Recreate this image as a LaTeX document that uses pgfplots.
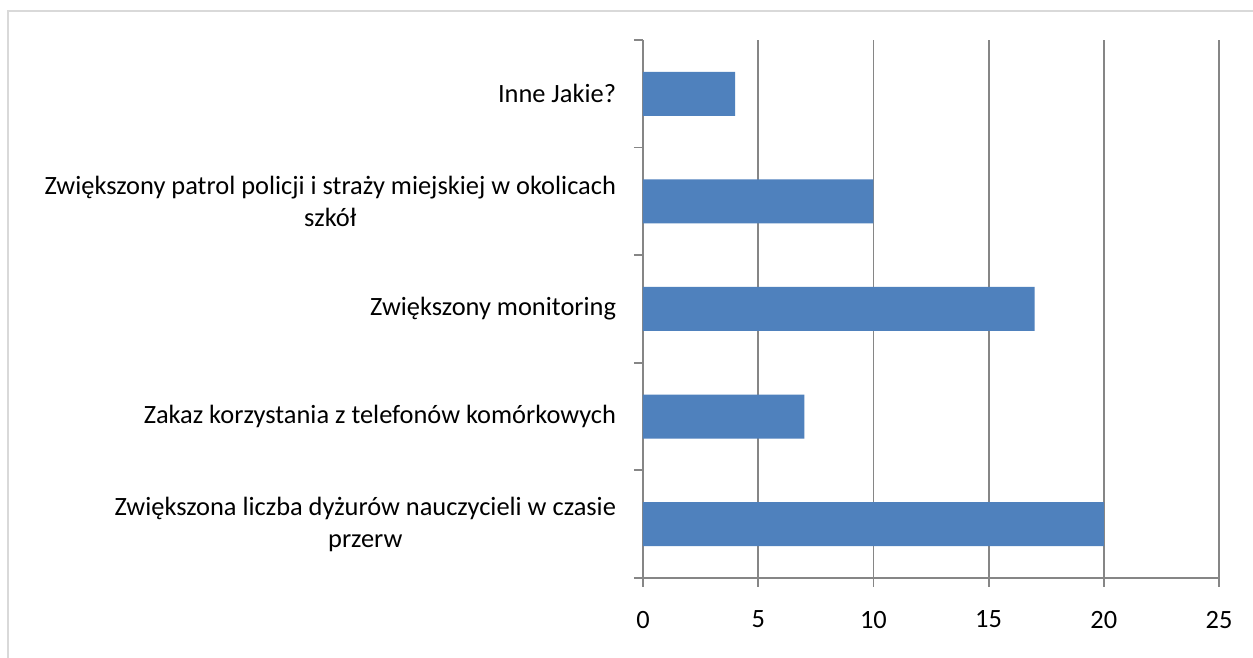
\documentclass[border=0pt]{standalone}
\usepackage{pgfplots}
\pgfplotsset{compat=1.18}
\usepackage{fontspec}
\setmainfont{Carlito}
\definecolor{barblue}{HTML}{4F81BD}
\definecolor{gridc}{HTML}{868686}
\begin{document}
\fontsize{26.5}{32}\selectfont
\begin{tikzpicture}[x=1bp,y=1bp]
\useasboundingbox[fill=white] (0,0) rectangle (1253,658);
\draw[color=black!15, line width=2bp] (8,0) -- (8,647) -- (1253,647);
\coordinate (O) at (643,80);
\begin{axis}[
  at={(O)}, anchor=south west,
  scale only axis, width=576bp, height=538bp,
  xmin=0, xmax=25, ymin=-0.5, ymax=4.5,
  axis x line=bottom, axis y line=left,
  axis line style={draw=gridc, line width=1.8bp, -},
  xtick={0,5,...,25}, xmajorgrids,
  grid style={draw=gridc, line width=1.8bp},
  ytick={-0.5,0.5,...,4.5}, yticklabels={},
  extra y ticks={0,1,2,3,4},
  extra y tick labels={{Zwiększona liczba dyżurów nauczycieli w czasie\\przerw},{Zakaz korzystania z telefonów komórkowych},{Zwiększony monitoring},{Zwiększony patrol policji i straży miejskiej w okolicach\\szkół},{Inne Jakie?}},
  extra y tick style={major tick length=0pt, grid=none, yticklabel style={align=center, xshift=-18bp}},
  tick align=outside, major tick length=9bp,
  tick style={draw=gridc, line width=1.8bp},
  xticklabel style={yshift=-15bp},
  /pgf/number format/assume math mode=true,
  ticklabel style={font=\fontsize{26.5}{32}\selectfont, text=black},
]
\addplot[xbar, fill=barblue, draw=none, bar width=44bp] coordinates {(20,0) (7,1) (17,2) (10,3) (4,4)};
\end{axis}
\end{tikzpicture}
\end{document}
